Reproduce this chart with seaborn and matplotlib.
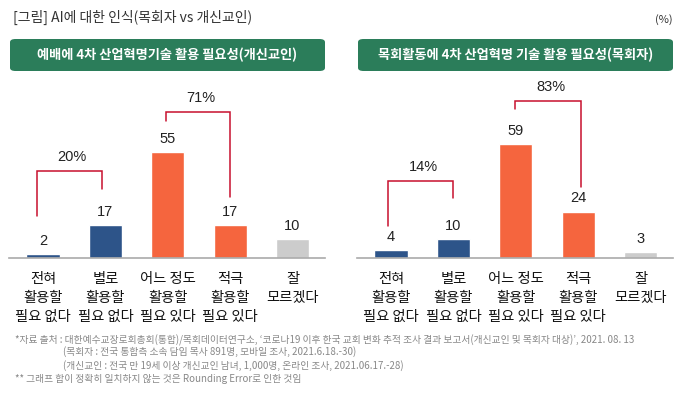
import matplotlib
matplotlib.use("Agg")
import matplotlib.pyplot as plt
from matplotlib.patches import FancyBboxPatch
import seaborn as sns
import pandas as pd

# ---- data ----
categories = ["전혀\n활용할\n필요 없다", "별로\n활용할\n필요 없다", "어느 정도\n활용할\n필요 있다",
              "적극\n활용할\n필요 있다", "잘\n모르겠다"]
believers_values = [2, 17, 55, 17, 10]
pastors_values = [4, 10, 59, 24, 3]
left_title = "예배에 4차 산업혁명기술 활용 필요성(개신교인)"
right_title = "목회활동에 4차 산업혁명 기술 활용 필요성(목회자)"
left_groups = [("20%", 0, 1), ("71%", 2, 3)]
right_groups = [("14%", 0, 1), ("83%", 2, 3)]
fig_title = "[그림] AI에 대한 인식(목회자 vs 개신교인)"
unit_label = "(%)"
footnotes = [
    "*자료 출처 : 대한예수교장로회총회(통합)/목회데이터연구소, ‘코로나19 이후 한국 교회 변화 추적 조사 결과 보고서(개신교인 및 목회자 대상)’, 2021. 08. 13",
    "(목회자 : 전국 통합측 소속 담임 목사 891명, 모바일 조사, 2021.6.18.-30)",
    "(개신교인 : 전국 만 19세 이상 개신교인 남녀, 1,000명, 온라인 조사, 2021.06.17.-28)",
    "** 그래프 합이 정확히 일치하지 않는 것은 Rounding Error로 인한 것임",
]

# ---- style ----
sns.set_theme(style="white")
plt.rcParams['font.family'] = ['Noto Sans CJK KR', 'DejaVu Sans']
bar_colors = ["#2D5489", "#2D5489", "#F5653E", "#F5653E", "#CCCCCC"]
green = "#2B7D5A"
red = "#C8102E"

W, H = 691, 398
fig = plt.figure(figsize=(W / 100, H / 100), dpi=100)

def px_axes(x0, x1, y_base, y_top):
    return fig.add_axes([x0 / W, (H - y_base) / H, (x1 - x0) / W, (y_base - y_top) / H])

YMAX = 95
PXU = 1.93
# bracket geometry: (left leg bottom, top, right leg bottom, left dx, right dx)
left_brk = [(21.8, 45, 36, -0.1, -0.06), (71, 75.6, 31.6, -0.03, 0.0)]
right_brk = [(16.6, 40, 31, -0.05, 0.0), (77, 81.3, 37, -0.01, 0.04)]

def draw_panel(ax, values, groups, brks):
    df = pd.DataFrame({"cat": categories, "val": values})
    sns.barplot(data=df, x="cat", y="val", hue="cat", palette=bar_colors,
                legend=False, width=0.53, ax=ax, saturation=1)
    ax.set_xlim(-0.545, 4.52)
    ax.set_ylim(0, YMAX)
    for s in ["top", "right", "left"]:
        ax.spines[s].set_visible(False)
    ax.spines["bottom"].set_color("#AAAAAA")
    ax.spines["bottom"].set_linewidth(1.2)
    ax.set_yticks([])
    ax.set_xlabel("")
    ax.set_ylabel("")
    ax.tick_params(axis="x", length=0, pad=10)
    for lab in ax.get_xticklabels():
        lab.set_fontsize(10.3)
        lab.set_color("#111111")
        lab.set_linespacing(1.45)
        lab.set_fontweight("medium")
    for i, v in enumerate(values):
        ax.annotate(str(v), (i, v), xytext=(0, 9.5), textcoords="offset points",
                    ha="center", va="center", fontsize=10.5, color="#222222",
                    family=["Liberation Sans", "DejaVu Sans"])
    for (lab, a, b), (lb, top, rb, dl, dr) in zip(groups, brks):
        xa, xb = a + dl, b + dr
        ax.plot([xa, xa, xb, xb], [lb, top, top, rb], color=red, lw=1.1,
                solid_joinstyle="miter")
        ax.annotate(lab, ((xa + xb) / 2 + 0.05, top), xytext=(0, 10), textcoords="offset points",
                    ha="center", va="center", fontsize=10.5, color="#222222",
                    family=["Liberation Sans", "DejaVu Sans"])

ax1 = px_axes(9, 325, 258, 258 - YMAX * PXU)
draw_panel(ax1, believers_values, left_groups, left_brk)
ax2 = px_axes(357, 673, 258, 258 - YMAX * PXU)
draw_panel(ax2, pastors_values, right_groups, right_brk)

# header boxes
for (x0, x1, txt) in [(10, 325, left_title), (358, 673, right_title)]:
    box = FancyBboxPatch((x0 / W, (H - 71) / H), (x1 - x0) / W, 32 / H,
                         boxstyle="round,pad=0,rounding_size=0.008",
                         transform=fig.transFigure, facecolor=green, edgecolor="none")
    fig.patches.append(box)
    fig.text((x0 + x1) / 2 / W, (H - 55) / H, txt, ha="center", va="center",
             color="white", fontsize=9.5, fontweight="bold")

fig.text(13 / W, (H - 17) / H, fig_title, ha="left", va="center", fontsize=10, color="#333333")
fig.text(673 / W, (H - 20) / H, unit_label, ha="right", va="center", fontsize=8, color="#333333")

foot_pos = [(15, 340), (63, 352), (63, 366), (15, 379)]
for (fx, fy), t in zip(foot_pos, footnotes):
    fig.text(fx / W, (H - fy) / H, t, ha="left", va="center", fontsize=7.0, color="#888888")

fig.savefig("out.png", dpi=100)
